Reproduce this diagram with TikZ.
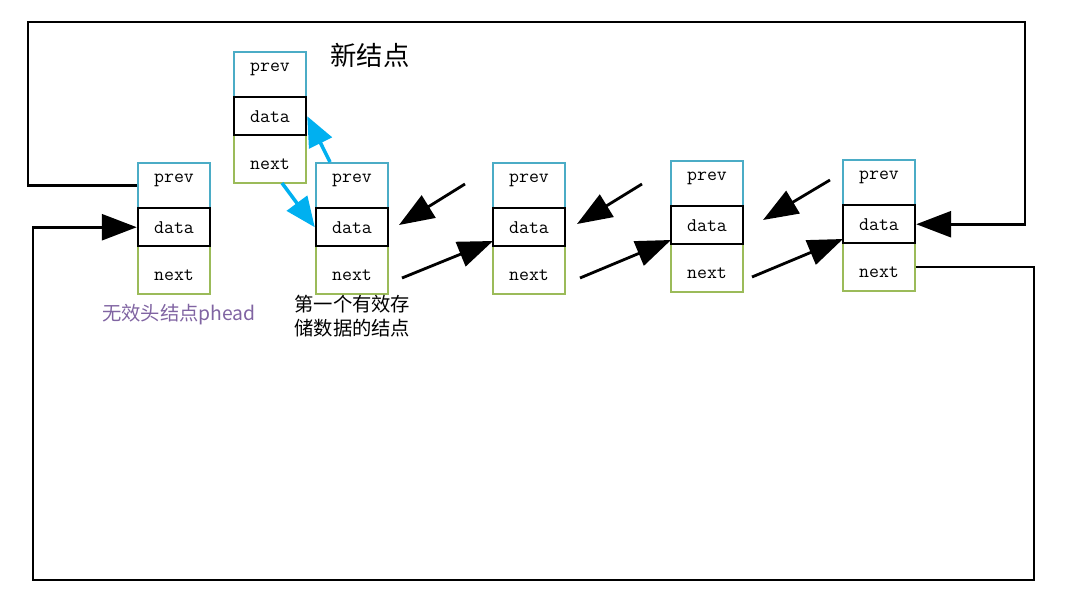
\documentclass[tikz,border=0pt]{standalone}
\usepackage{fontspec}
\newfontfamily\cjk{Noto Sans CJK SC}
\usetikzlibrary{arrows.meta,calc}
\definecolor{PrevBlue}{RGB}{75,172,198}
\definecolor{NextGreen}{RGB}{155,187,89}
\definecolor{LinkBlue}{RGB}{0,176,240}
\definecolor{HeadPurple}{RGB}{128,100,162}

\begin{document}
\begin{tikzpicture}[x=0.02cm,y=-0.02cm,
  cell/.style={draw,fill=white,minimum width=1.44cm,inner sep=0pt,font=\fontsize{11}{12}\ttfamily,line width=1.1pt},
  prevcell/.style={cell,draw=PrevBlue,minimum height=0.9cm,text height=5pt,text depth=8pt},
  datacell/.style={cell,draw=black,line width=1.4pt,minimum height=0.76cm},
  nextcell/.style={cell,draw=NextGreen,minimum height=0.96cm,text height=12pt,text depth=0pt},
  link/.style={-{Triangle[length=0.7cm,width=0.52cm]},line width=1.6pt},
  bluelink/.style={LinkBlue,-{Triangle[length=0.6cm,width=0.5cm]},line width=2pt}]
  \useasboundingbox (0,0) rectangle (1080,599);
  % the six nodes: head, new node, then the list
  \foreach \n/\x/\y in {A/174/162,N/270/51,B/352/162,C/529/162,D/707/160,E/879/159} {
    \node[prevcell,anchor=north] (\n-prev) at (\x,\y) {prev};
    \node[nextcell,anchor=north] (\n-next) at (\x,\y+83) {next};
    \node[datacell,anchor=north] (\n-data) at (\x,\y+45) {data};
  }
  \node[font=\cjk\fontsize{15}{18}\selectfont] (newlbl) at (370,55) {新结点};
  \node[font=\cjk\fontsize{11}{13}\selectfont,text=HeadPurple] (headlbl) at (179,315) {无效头结点phead};
  \node[font=\cjk\fontsize{11}{13.6}\selectfont,anchor=north west,align=left,inner sep=0pt] (firstlbl) at (294,295) {第一个有效存\\储数据的结点};
  % loop lines round the list
  \coordinate (topL) at (28,22);
  \coordinate (topR) at (1025,22);
  \coordinate (botL) at (33,580);
  \coordinate (botR) at (1034,580);
  \draw[link] (A-prev.west) -| (topL) -| (topR) |- (E-data.east);
  \draw[link] (E-next.east) -| (botR) -| (botL) |- (A-data.west);
  % inserting the new node
  \coordinate (bp) at (330,162);
  \coordinate (nn) at (282,183);
  \draw[bluelink] (bp) -- (N-data.east);
  \draw[bluelink] (nn) -- (B-data.west);
  % links between the list nodes
  \foreach \s/\e/\sx/\sy/\ex/\ey in {b1/b2/465/184/399/225, c1/c2/642/184/577/224, d1/d2/830/180/763/220,
                                    f1/f2/402/278/493/241, g1/g2/580/278/671/240, h1/h2/752/277/843/239} {
    \coordinate (\s) at (\sx,\sy);
    \coordinate (\e) at (\ex,\ey);
    \draw[link] (\s) -- (\e);
  }
\end{tikzpicture}
\end{document}
